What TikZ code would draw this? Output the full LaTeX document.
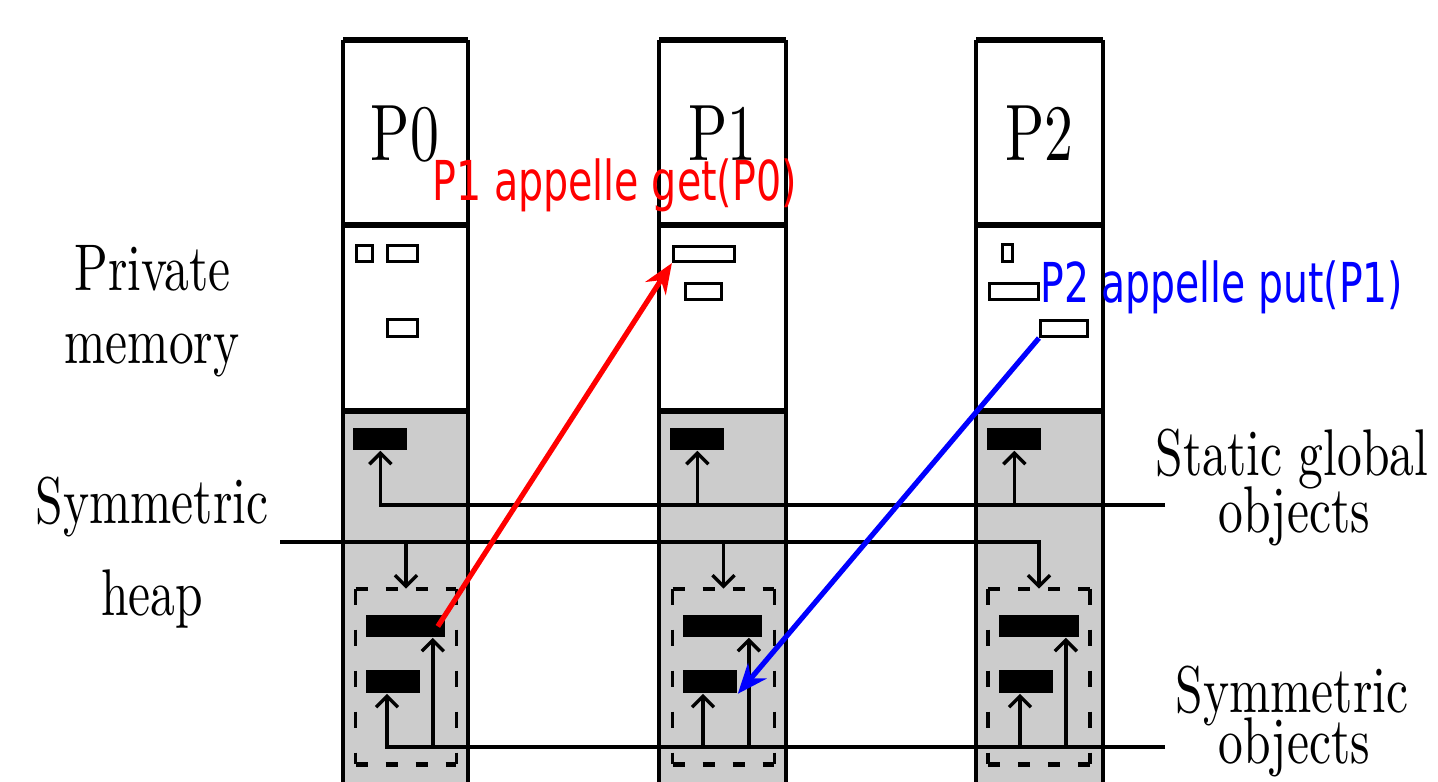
\documentclass[tikz,border=0pt]{standalone}
\usepackage{fontspec}
\usepackage{graphicx}
\newfontfamily\dejavu{DejaVu Sans}
\newfontfamily\lmten{lmroman10-regular.otf}
\usetikzlibrary{arrows.meta}
\begin{document}
\begin{tikzpicture}[x=0.5pt,y=-0.5pt,
  colline/.style={line width=1.8pt},
  sepline/.style={line width=2.6pt},
  topline/.style={line width=3.2pt},
  conn/.style={line width=1.9pt},
  uptip/.style={-{Straight Barb[width=11pt,length=5.5pt,line width=1.7pt]}},
  bar/.style={rectangle, fill=black, draw=none, inner sep=0pt, anchor=north west, minimum height=11pt},
  pbox/.style={rectangle, draw, fill=white, line width=1.6pt, inner sep=0pt},
  dbox/.style={rectangle, draw=none, inner sep=0pt, minimum width=50pt, minimum height=87.5pt},
  dashH/.style={line width=2.1pt, dash pattern=on 6pt off 9pt},
  dashV/.style={line width=1.8pt, dash pattern=on 8pt off 12.5pt},
  lbl/.style={inner sep=0pt, anchor=base, font=\lmten\fontsize{33}{36}\selectfont},
  plbl/.style={inner sep=0pt, anchor=base, font=\lmten\fontsize{40}{44}\selectfont},
  note/.style={inner sep=0pt, anchor=base west, font=\dejavu\fontsize{27.5}{30}\selectfont},
  call/.style={line width=2.6pt, -{Stealth[length=15pt,width=12pt]}},
]
\useasboundingbox (0,0) rectangle (1438,781);
\clip (0,0) rectangle (1438,781);

% columns
\foreach \L/\R in {343/468, 659/786, 976/1103}{
  \fill[black!20] (\L,411) rectangle (\R,800);
  \fill[white] (\L,40) rectangle (\R,411);
  \draw[colline] (\L,40) -- (\L,800);
  \draw[colline] (\R,40) -- (\R,800);
  \draw[topline] (\L,40) -- (\R,40);
  \draw[sepline] (\L,225) -- (\R,225);
  \draw[sepline] (\L,411) -- (\R,411);
}

% process labels
\node[plbl] (p0) at (405,160) {\scalebox{0.72}[1]{P0}};
\node[plbl] (p1) at (722,160) {\scalebox{0.72}[1]{P1}};
\node[plbl] (p2) at (1039,160) {\scalebox{0.72}[1]{P2}};

% private memory boxes
\node[pbox, minimum width=8pt, minimum height=8pt] (s0a) at (364.5,253.5) {};
\node[pbox, minimum width=15pt, minimum height=8pt] (s0b) at (402.5,253.5) {};
\node[pbox, minimum width=15pt, minimum height=8.5pt] (s0c) at (402.5,328) {};
\node[pbox, minimum width=30.5pt, minimum height=7.5pt] (m1a) at (704,254) {};
\node[pbox, minimum width=18pt, minimum height=8pt] (m1b) at (703.5,291.5) {};
\node[pbox, minimum width=5pt, minimum height=8.5pt] (m2a) at (1007.5,253) {};
\node[pbox, minimum width=24.5pt, minimum height=8pt] (m2b) at (1014,291.5) {};
\node[pbox, minimum width=23.5pt, minimum height=8pt] (m2c) at (1064,328.5) {};

% static global objects bars
\node[bar, minimum width=27pt] (g0) at (353,428) {};
\node[bar, minimum width=27pt] (g1) at (670,428) {};
\node[bar, minimum width=27pt] (g2) at (987,428) {};

% dashed regions
\node[dbox] (d0) at (406,676.5) {};
\node[dbox, minimum width=50.5pt] (d1) at (723.5,676.5) {};
\node[dbox, minimum width=50.5pt] (d2) at (1039,676.5) {};
\foreach \d in {d0,d1,d2}{
  \draw[dashH] (\d.north west) -- (\d.north east);
  \draw[dashH] (\d.south west) -- (\d.south east);
  \draw[dashV] (\d.north west) -- (\d.south west);
  \draw[dashV] (\d.north east) -- (\d.south east);
}

% symmetric objects bars
\node[bar, minimum width=39.5pt] (a0) at (366,615) {};
\node[bar, minimum width=27pt, minimum height=11.5pt] (b0) at (366,670) {};
\node[bar, minimum width=39.5pt] (a1) at (683,615) {};
\node[bar, minimum width=27pt, minimum height=11.5pt] (b1) at (683,670) {};
\node[bar, minimum width=40pt] (a2) at (999,615) {};
\node[bar, minimum width=27pt, minimum height=11.5pt] (b2) at (999,670) {};

% static global objects line
\coordinate (sR) at (1165,505);
\draw[conn, uptip] (sR) -| (g0.south);
\draw[conn, uptip] (g1.south |- sR) -- (g1.south);
\draw[conn, uptip] (g2.south |- sR) -- (g2.south);

% symmetric heap line
\coordinate (hL) at (280,542);
\draw[conn, uptip] (hL) -| (d2.north);
\draw[conn, uptip] (d0.north |- hL) -- (d0.north);
\draw[conn, uptip] (d1.north |- hL) -- (d1.north);

% symmetric objects line
\coordinate (oR) at (1165,747);
\draw[conn, uptip] (oR) -| ([xshift=10.5pt]b0.south west);
\draw[conn, uptip] ([xshift=-6.5pt]a0.south east |- oR) -- ([xshift=-6.5pt]a0.south east);
\draw[conn, uptip] ([xshift=10pt]b1.south west |- oR) -- ([xshift=10pt]b1.south west);
\draw[conn, uptip] ([xshift=-7pt]a1.south east |- oR) -- ([xshift=-7pt]a1.south east);
\draw[conn, uptip] ([xshift=10.5pt]b2.south west |- oR) -- ([xshift=10.5pt]b2.south west);
\draw[conn, uptip] ([xshift=-7pt]a2.south east |- oR) -- ([xshift=-7pt]a2.south east);

% side labels
\node[lbl] (pm1) at (152.5,290) {\scalebox{0.75}[1]{Private}};
\node[lbl] (pm2) at (152,363) {\scalebox{0.75}[1]{memory}};
\node[lbl] (sh1) at (152,523) {\scalebox{0.75}[1]{Symmetric}};
\node[lbl] (sh2) at (152,615) {\scalebox{0.75}[1]{heap}};
\node[lbl] (sg1) at (1292,475) {\scalebox{0.75}[1]{Static global}};
\node[lbl] (sg2) at (1294,532) {\scalebox{0.75}[1]{objects}};
\node[lbl] (so1) at (1292,712) {\scalebox{0.75}[1]{Symmetric}};
\node[lbl] (so2) at (1294,763) {\scalebox{0.75}[1]{objects}};

% one-sided calls
\draw[call, red] ([xshift=-4pt]a0.east) -- (m1a.south west);
\draw[call, blue] (m2c.south west) -- (b1.south east);
\node[note, text=red] (get) at (432,200) {\scalebox{0.72}[1]{P1 appelle get(P0)}};
\node[note, text=blue] (put) at (1040,302) {\scalebox{0.715}[1]{P2 appelle put(P1)}};
\end{tikzpicture}
\end{document}
